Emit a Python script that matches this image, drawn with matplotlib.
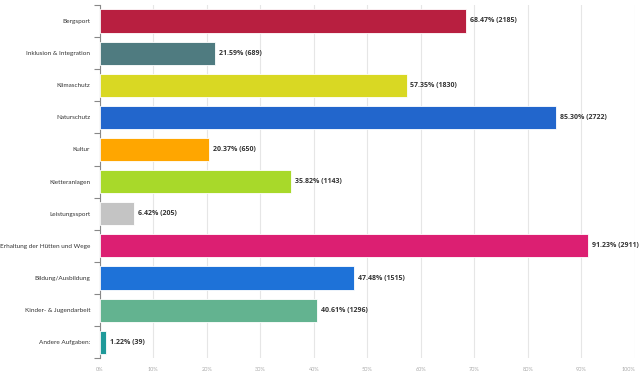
import matplotlib
matplotlib.use('Agg')
import matplotlib.pyplot as plt
import numpy as np

plt.rcParams['font.family'] = ['Lato', 'DejaVu Sans']

# Data
categories = ['Bergsport', 'Inklusion & Integration', 'Klimaschutz', 'Naturschutz',
              'Kultur', 'Kletteranlagen', 'Leistungssport',
              'Erhaltung der Hütten und Wege', 'Bildung/Ausbildung',
              'Kinder- & Jugendarbeit', 'Andere Aufgaben:']
percents = [68.47, 21.59, 57.35, 85.30, 20.37, 35.82, 6.42, 91.23, 47.48, 40.61, 1.22]
counts = [2185, 689, 1830, 2722, 650, 1143, 205, 2911, 1515, 1296, 39]
colors = ['#b81f40', '#4f7b80', '#d9d823', '#2266cc', '#ffa600', '#a8d92a',
          '#c4c4c4', '#dc1f72', '#1e72d8', '#63b390', '#1f9a9a']
x_ticks = np.arange(0, 101, 10)

fig = plt.figure(figsize=(6.4, 3.78), dpi=100)
ax = fig.add_axes([0.156, 0.052, 0.836, 0.935])

y = np.arange(len(categories))
ax.barh(y, percents, height=0.72, color=colors, edgecolor='white', linewidth=0.6, zorder=3)

for yi, p, c in zip(y, percents, counts):
    ax.text(p + 0.7, yi, f'{p:.2f}% ({c})', va='center', ha='left',
            fontsize=5.0, fontweight='bold', color='#333333',
            family=['Open Sans', 'DejaVu Sans'])

ax.set_xlim(0, 100)
ax.set_ylim(len(categories) - 0.5, -0.5)
ax.set_xticks(x_ticks)
ax.set_xticklabels([f'{t}%' for t in x_ticks], fontsize=4, color='#aaaaaa')
ax.get_xticklabels()[-1].set_ha('right')
ax.tick_params(axis='x', length=0, pad=6)

ax.set_yticks(y)
ax.set_yticklabels(categories, fontsize=4.55, color='#333333')
ax.set_yticks(np.arange(-0.5, len(categories), 1), minor=True)
ax.tick_params(axis='y', which='major', length=0, pad=7)
ax.tick_params(axis='y', which='minor', length=4, color='#888888', width=0.8)

ax.grid(axis='x', color='#e6e6e6', linewidth=0.8, zorder=0)
for s in ['top', 'right', 'bottom']:
    ax.spines[s].set_visible(False)
ax.spines['left'].set_color('#888888')
ax.spines['left'].set_linewidth(0.8)

fig.savefig('out.png', dpi=100)
